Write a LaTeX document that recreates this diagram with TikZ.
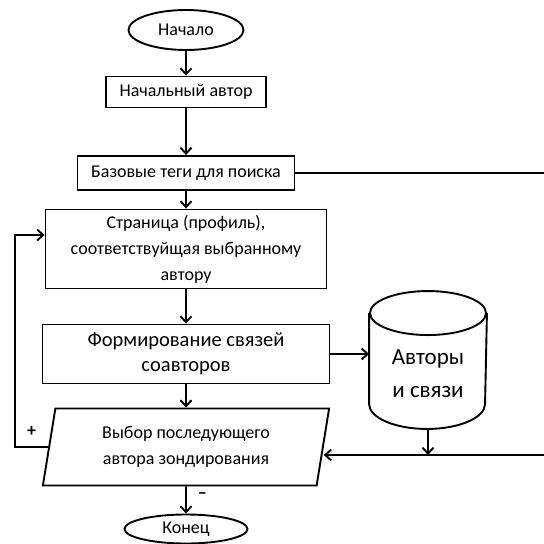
\documentclass[tikz,border=0pt]{standalone}
\usepackage{fontspec}
\setmainfont{Carlito}
\usetikzlibrary{positioning,arrows.meta,shapes.geometric}

\tikzset{
  block/.style={draw,on grid,align=center,inner sep=1pt,font=\fontsize{18}{26}\selectfont},
  bigblock/.style={block,font=\fontsize{20.5}{25}\selectfont},
  terminal/.style={draw,on grid,ellipse,inner sep=0pt,font=\fontsize{18}{20}\selectfont},
  choose/.style={draw,on grid,trapezium,trapezium left angle=79,trapezium right angle=101,
    trapezium stretches=true,align=center,inner sep=0pt,font=\fontsize{18}{26}\selectfont},
  mark label/.style={font=\fontsize{18}{20}\selectfont\bfseries,inner sep=1pt}
}

\begin{document}
\begin{tikzpicture}[x=1pt,y=-1pt,>={Straight Barb[length=6pt,width=11pt]},line width=1.9pt]
    \useasboundingbox (0,0) rectangle (544,544);
    \node[terminal,minimum width=115pt,minimum height=40pt] (start) at (186,30) {Начало};
    \node[block,below=62pt of start,minimum width=160pt,minimum height=31pt] (author) {Начальный автор};
    \node[block,below=81pt of author,minimum width=217pt,minimum height=34pt] (tags) {Базовые теги для поиска};
    \node[block,below=76pt of tags,minimum width=281pt,minimum height=79pt] (page) {Страница (профиль),\\соответствуйщая выбранному\\автору};
    \node[bigblock,below=105pt of page,minimum width=287pt,minimum height=59pt] (links) {Формирование связей\\соавторов};
    \node[choose,below=93pt of links,minimum width=287pt,minimum height=77pt] (choice) {Выбор последующего\\автора зондирования};
    \node[terminal,below=82pt of choice,minimum width=123pt,minimum height=29pt] (finish) {Конец};
    \node[align=center,minimum width=116pt,minimum height=108pt,inner sep=0pt,
      font=\fontsize{23}{33}\selectfont] (db) at (428,374) {Авторы\\и связи};
    \coordinate (rail) at (570,455);
    % cylinder outline
    \draw ([yshift=6pt]db.north) ellipse [x radius=58pt,y radius=22pt];
    \draw ([yshift=6pt]db.north west) -- ([yshift=25pt]db.south west)
      arc[start angle=180,end angle=360,x radius=58pt,y radius=25pt] -- ([yshift=6pt]db.north east);
    \draw[->] (start) -- (author);
    \draw[->] (author) -- (tags);
    \draw[->] (tags) -- (page);
    \draw[->] (page) -- (links);
    \draw[->] (links) -- (choice);
    \draw[->] (choice) -- node[mark label,pos=0.35,right=10pt] {--} (finish);
    \draw[->] (links) -- (links -| db.west);
    \draw[->] (db.south) -- (db.south |- rail);
    \draw[->] (tags.east) -| (rail) -- (rail -| choice.east);
    \draw[->] (choice.west) -- node[mark label,above=9pt] {+} ++(-33,0) |- ([yshift=14pt]page.west);
\end{tikzpicture}
\end{document}
